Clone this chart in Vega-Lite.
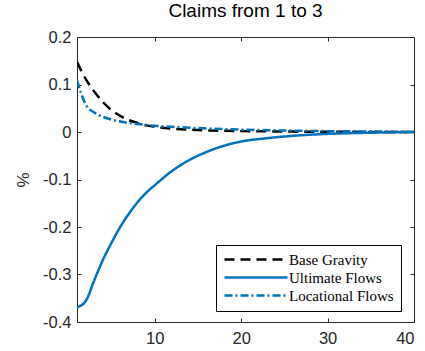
{
  "$schema": "https://vega.github.io/schema/vega-lite/v6.json",
  "width": 337,
  "height": 285,
  "autosize": "none",
  "padding": {"left": 77, "top": 37, "right": 11, "bottom": 29},
  "background": "white",
  "title": {"text": "Claims from 1 to 3", "font": "Liberation Sans", "fontSize": 19, "fontWeight": "normal", "color": "#000000", "offset": 8},
  "config": {
    "view": {"stroke": "#262626", "strokeWidth": 1},
    "axis": {"grid": false, "domainColor": "#262626", "tickColor": "#262626", "labelColor": "#262626", "labelFont": "Liberation Sans", "labelFontSize": 16.5, "titleFont": "Liberation Sans", "titleFontSize": 17, "titleColor": "#262626", "titleFontWeight": "normal", "tickSize": -4, "domain": true}
  },
  "data": {"values": [
    {"series": "Base Gravity", "t": 1, "v": 0.147}, {"series": "Base Gravity", "t": 2, "v": 0.112}, {"series": "Base Gravity", "t": 3, "v": 0.085}, {"series": "Base Gravity", "t": 4, "v": 0.063}, {"series": "Base Gravity", "t": 5, "v": 0.046}, {"series": "Base Gravity", "t": 6, "v": 0.034}, {"series": "Base Gravity", "t": 7, "v": 0.025}, {"series": "Base Gravity", "t": 8, "v": 0.019}, {"series": "Base Gravity", "t": 9, "v": 0.014}, {"series": "Base Gravity", "t": 10, "v": 0.011}, {"series": "Base Gravity", "t": 12, "v": 0.007}, {"series": "Base Gravity", "t": 14, "v": 0.005}, {"series": "Base Gravity", "t": 16, "v": 0.0035}, {"series": "Base Gravity", "t": 18, "v": 0.0025}, {"series": "Base Gravity", "t": 20, "v": 0.002}, {"series": "Base Gravity", "t": 23, "v": 0.0013}, {"series": "Base Gravity", "t": 26, "v": 0.0008}, {"series": "Base Gravity", "t": 30, "v": 0.0005}, {"series": "Base Gravity", "t": 35, "v": 0.0002}, {"series": "Base Gravity", "t": 40, "v": 0.0001},
    {"series": "Ultimate Flows", "t": 1, "v": -0.369}, {"series": "Ultimate Flows", "t": 2, "v": -0.356}, {"series": "Ultimate Flows", "t": 3, "v": -0.312}, {"series": "Ultimate Flows", "t": 4, "v": -0.269}, {"series": "Ultimate Flows", "t": 5, "v": -0.233}, {"series": "Ultimate Flows", "t": 6, "v": -0.2}, {"series": "Ultimate Flows", "t": 7, "v": -0.172}, {"series": "Ultimate Flows", "t": 8, "v": -0.148}, {"series": "Ultimate Flows", "t": 9, "v": -0.128}, {"series": "Ultimate Flows", "t": 10, "v": -0.112}, {"series": "Ultimate Flows", "t": 12, "v": -0.082}, {"series": "Ultimate Flows", "t": 14, "v": -0.059}, {"series": "Ultimate Flows", "t": 16, "v": -0.042}, {"series": "Ultimate Flows", "t": 18, "v": -0.029}, {"series": "Ultimate Flows", "t": 20, "v": -0.02}, {"series": "Ultimate Flows", "t": 23, "v": -0.013}, {"series": "Ultimate Flows", "t": 26, "v": -0.008}, {"series": "Ultimate Flows", "t": 30, "v": -0.004}, {"series": "Ultimate Flows", "t": 35, "v": -0.0015}, {"series": "Ultimate Flows", "t": 40, "v": -0.0005},
    {"series": "Locational Flows", "t": 1, "v": 0.109}, {"series": "Locational Flows", "t": 2, "v": 0.058}, {"series": "Locational Flows", "t": 3, "v": 0.041}, {"series": "Locational Flows", "t": 4, "v": 0.032}, {"series": "Locational Flows", "t": 5, "v": 0.026}, {"series": "Locational Flows", "t": 6, "v": 0.022}, {"series": "Locational Flows", "t": 7, "v": 0.019}, {"series": "Locational Flows", "t": 8, "v": 0.017}, {"series": "Locational Flows", "t": 9, "v": 0.015}, {"series": "Locational Flows", "t": 10, "v": 0.013}, {"series": "Locational Flows", "t": 12, "v": 0.011}, {"series": "Locational Flows", "t": 14, "v": 0.009}, {"series": "Locational Flows", "t": 16, "v": 0.0075}, {"series": "Locational Flows", "t": 18, "v": 0.006}, {"series": "Locational Flows", "t": 20, "v": 0.005}, {"series": "Locational Flows", "t": 23, "v": 0.0038}, {"series": "Locational Flows", "t": 26, "v": 0.0028}, {"series": "Locational Flows", "t": 30, "v": 0.0018}, {"series": "Locational Flows", "t": 35, "v": 0.001}, {"series": "Locational Flows", "t": 40, "v": 0.0005}
  ]},
  "layer": [
    {
      "mark": {"type": "line", "strokeWidth": 2.5, "interpolate": "monotone", "clip": true},
      "encoding": {
        "x": {"field": "t", "type": "quantitative", "scale": {"domain": [1, 40], "nice": false, "zero": false}, "axis": {"values": [10, 20, 30, 40], "title": null, "labelPadding": 12}},
        "y": {"field": "v", "type": "quantitative", "scale": {"domain": [-0.4, 0.2], "nice": false}, "axis": {"values": [-0.4, -0.3, -0.2, -0.1, 0, 0.1, 0.2], "labelExpr": "toString(datum.value)", "title": "%", "labelPadding": 10, "titlePadding": 10, "labelFlush": false}},
        "color": {"field": "series", "type": "nominal", "scale": {"domain": ["Base Gravity", "Ultimate Flows", "Locational Flows"], "range": ["#000000", "#0072BD", "#0072BD"]},
          "legend": {"title": null, "orient": "none", "legendX": 139, "legendY": 208, "direction": "vertical", "strokeColor": "#000000", "fillColor": "#ffffff", "padding": 7, "labelFont": "Liberation Serif", "labelFontSize": 15, "labelColor": "#000000", "symbolType": "M-1.2,0H11.4", "symbolSize": 100, "symbolStrokeWidth": 2.5, "rowPadding": 2, "labelOffset": 51, "cornerRadius": 0}},
        "strokeDash": {"field": "series", "type": "nominal", "scale": {"domain": ["Base Gravity", "Ultimate Flows", "Locational Flows"], "range": [[10, 6], [1, 0], [8, 3, 2, 3]]}, "legend": null},
        "order": {"field": "t", "type": "quantitative"}
      }
    },
    {
      "mark": {"type": "point", "opacity": 0},
      "encoding": {
        "x": {"field": "t", "type": "quantitative", "axis": {"orient": "top", "values": [10, 20, 30], "labels": false, "title": null, "domain": false}},
        "y": {"field": "v", "type": "quantitative", "axis": {"orient": "right", "values": [-0.3, -0.2, -0.1, 0, 0.1], "labels": false, "title": null, "domain": false}}
      }
    }
  ],
  "resolve": {"axis": {"x": "independent", "y": "independent"}}
}
